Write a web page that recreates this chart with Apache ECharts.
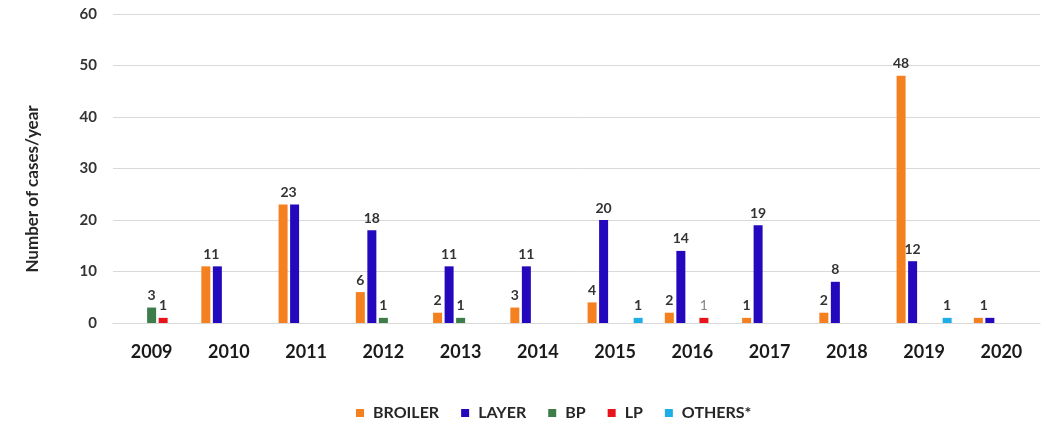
<!DOCTYPE html>
<html>
<head>
<meta charset="utf-8">
<script src="https://cdn.jsdelivr.net/npm/echarts@6/dist/echarts.min.js"></script>
<style>html,body{margin:0;padding:0;background:#fff;}#c{width:1046px;height:425px;}</style>
</head>
<body>
<div id="c"></div>
<script>
const years = ['2009','2010','2011','2012','2013','2014','2015','2016','2017','2018','2019','2020'];
const broiler = [0,11,23,6,2,3,4,2,1,2,48,1];
const layer   = [0,11,23,18,11,11,20,14,19,8,12,1];
const bp      = [3,0,0,1,1,0,0,0,0,0,0,0];
const lp      = [1,0,0,0,0,0,0,1,0,0,0,0];
const others  = [0,0,0,0,0,0,1,0,0,0,1,0];
const sharedLabelYears = ['2010','2011','2020'];
const yTicks = [0,10,20,30,40,50,60];

const FONT = 'Lato';
const labelBase = {show:true, position:'top', distance:5, fontFamily:FONT, fontWeight:'bold', fontSize:14, color:'#333'};

function mkData(values, kind) {
  return values.map((v, i) => {
    const shared = sharedLabelYears.includes(years[i]);
    let lbl;
    if (v <= 0) lbl = {show:false};
    else if (kind === 'broiler' && shared) lbl = {show:false};
    else if (kind === 'layer' && shared) lbl = Object.assign({}, labelBase, {offset:[-6,0]});
    else if (kind === 'lp' && years[i] === '2016') lbl = Object.assign({}, labelBase, {color:'#888', fontWeight:'normal'});
    else lbl = labelBase;
    return {value: v, label: lbl};
  });
}

const chart = echarts.init(document.getElementById('c'), null, {renderer:'canvas'});
const colors = ['#F5801F','#2308BE','#3E7C4A','#E8131B','#1EAEE6'];
const mkSeries = (name, vals, kind) => ({
  name, type:'bar', data: mkData(vals, kind), barWidth:9, barGap:'28%',
  emphasis:{disabled:true}
});
chart.setOption({
  animation:false,
  color: colors,
  grid:{left:113, right:6, top:14, bottom:102, containLabel:false},
  legend:{
    bottom:-1, left:351, itemWidth:8, itemHeight:8, itemGap:22, icon:'rect',
    textStyle:{fontFamily:FONT, fontWeight:'bold', fontSize:16, color:'#262626', padding:[0,0,0,4]},
    data:['BROILER','LAYER','BP','LP','OTHERS*']
  },
  xAxis:{
    type:'category', data: years,
    axisLine:{show:true, lineStyle:{color:'#d9d9d9', width:1}},
    axisTick:{show:false},
    axisLabel:{fontFamily:FONT, fontWeight:'bold', fontSize:18, color:'#1a1a1a', margin:20}
  },
  yAxis:{
    type:'value', min:yTicks[0], max:yTicks[yTicks.length-1], interval:10,
    axisLine:{show:false}, axisTick:{show:false},
    splitLine:{lineStyle:{color:'#d9d9d9', width:1}},
    axisLabel:{fontFamily:FONT, fontWeight:'bold', fontSize:15, color:'#333', margin:16}
  },
  graphic:[{
    type:'text', x:33, y:189, rotation:Math.PI/2,
    style:{text:'Number of cases/year', fontFamily:FONT, fontWeight:'bold', fontSize:17, fill:'#262626', align:'center', verticalAlign:'middle'}
  }],
  series:[
    mkSeries('BROILER', broiler, 'broiler'),
    mkSeries('LAYER', layer, 'layer'),
    mkSeries('BP', bp, 'bp'),
    mkSeries('LP', lp, 'lp'),
    mkSeries('OTHERS*', others, 'others')
  ]
});
</script>
</body>
</html>
